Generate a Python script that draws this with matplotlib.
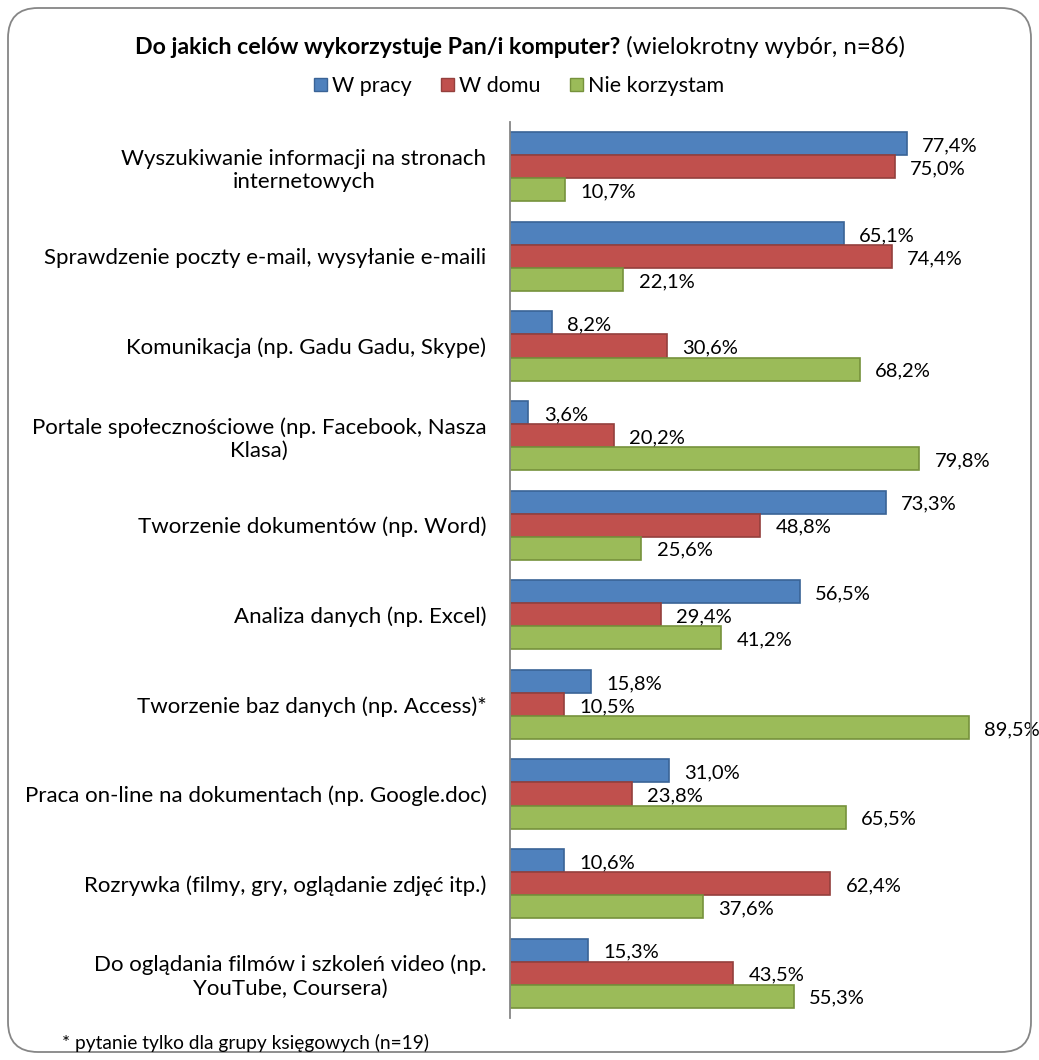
import matplotlib
matplotlib.use("Agg")
import matplotlib.pyplot as plt
from matplotlib.patches import FancyBboxPatch, Rectangle
import numpy as np

plt.rcParams['font.family'] = ['Lato', 'DejaVu Sans']

categories = [
    "Wyszukiwanie informacji na stronach\ninternetowych",
    "Sprawdzenie poczty e-mail, wysyłanie e-maili",
    "Komunikacja (np. Gadu Gadu, Skype)",
    "Portale społecznościowe (np. Facebook, Nasza\nKlasa)",
    "Tworzenie dokumentów (np. Word)",
    "Analiza danych (np. Excel)",
    "Tworzenie baz danych (np. Access)*",
    "Praca on-line na dokumentach (np. Google.doc)",
    "Rozrywka (filmy, gry, oglądanie zdjęć itp.)",
    "Do oglądania filmów i szkoleń video (np.\nYouTube, Coursera)",
]
w_pracy = [77.4, 65.1, 8.2, 3.6, 73.3, 56.5, 15.8, 31.0, 10.6, 15.3]
w_domu = [75.0, 74.4, 30.6, 20.2, 48.8, 29.4, 10.5, 23.8, 62.4, 43.5]
nie_korzystam = [10.7, 22.1, 68.2, 79.8, 25.6, 41.2, 89.5, 65.5, 37.6, 55.3]
series_names = ["W pracy", "W domu", "Nie korzystam"]
face_colors = ["#4F81BD", "#C0504D", "#9BBB59"]
edge_colors = ["#3A6396", "#94403D", "#76923C"]

W, H = 1039, 1060
fig = plt.figure(figsize=(W / 100, H / 100), dpi=100, facecolor="white")

# rounded frame
frame = FancyBboxPatch((8 / 100, 8 / 100), (W - 16) / 100, (H - 16) / 100,
                       boxstyle="round,pad=0,rounding_size=0.3",
                       transform=fig.dpi_scale_trans, facecolor="none",
                       edgecolor="#868686", linewidth=1.3, zorder=0)
fig.patches.append(frame)

ax = fig.add_axes([510 / W, 1 - 1018 / H, (1023 - 510) / W, (1018 - 122) / H])
ax.set_facecolor("none")

y = np.arange(len(categories))
bh = 0.257
all_series = [w_pracy, w_domu, nie_korzystam]
for k, vals in enumerate(all_series):
    pos = y + (k - 1) * bh
    ax.barh(pos, vals, height=bh, color=face_colors[k], edgecolor=edge_colors[k],
            linewidth=1.2, label=series_names[k])
    for p, v in zip(pos, vals):
        ax.annotate(f"{v:.1f}%".replace(".", ","), xy=(v, p), xytext=(11, -1.5),
                    textcoords="offset points", ha="left", va="center",
                    fontsize=14.5, color="#000000")

ax.set_xlim(0, 100)
ax.set_ylim(len(categories) - 0.5, -0.5)
ax.set_yticks(y)
ax.set_yticklabels(categories, fontsize=16, multialignment="center", linespacing=1.2)
ax.tick_params(axis="y", length=0, pad=17)
ax.set_xticks([])
for s in ["top", "right", "bottom"]:
    ax.spines[s].set_visible(False)
ax.spines["left"].set_color("#868686")
ax.spines["left"].set_linewidth(1.3)

# legend
handles = [Rectangle((0, 0), 1, 1, facecolor=face_colors[k], edgecolor=edge_colors[k])
           for k in range(3)]
fig.legend(handles, series_names, loc="center", bbox_to_anchor=(519 / W, 1 - 86 / H),
           ncol=3, frameon=False, fontsize=15.5, handlelength=0.6, handleheight=0.6,
           handletextpad=0.2, columnspacing=1.4)

# title: bold part + normal part, centered together
t1 = fig.text(0, 1 - 47 / H, "Do jakich celów wykorzystuje Pan/i komputer?",
              fontsize=16.7, fontweight="bold", ha="left", va="center")
t2 = fig.text(0, 1 - 47 / H, " (wielokrotny wybór, n=86)",
              fontsize=17.3, ha="left", va="center")
fig.canvas.draw()
r = fig.canvas.get_renderer()
w1 = t1.get_window_extent(r).width
w2 = t2.get_window_extent(r).width
start = 520 - (w1 + w2) / 2
t1.set_x(start / W)
t2.set_x((start + w1) / W)

fig.text(62 / W, 1 - 1043 / H, "* pytanie tylko dla grupy księgowych (n=19)",
         fontsize=13.8, ha="left", va="center")

fig.savefig("out.png", dpi=100)
